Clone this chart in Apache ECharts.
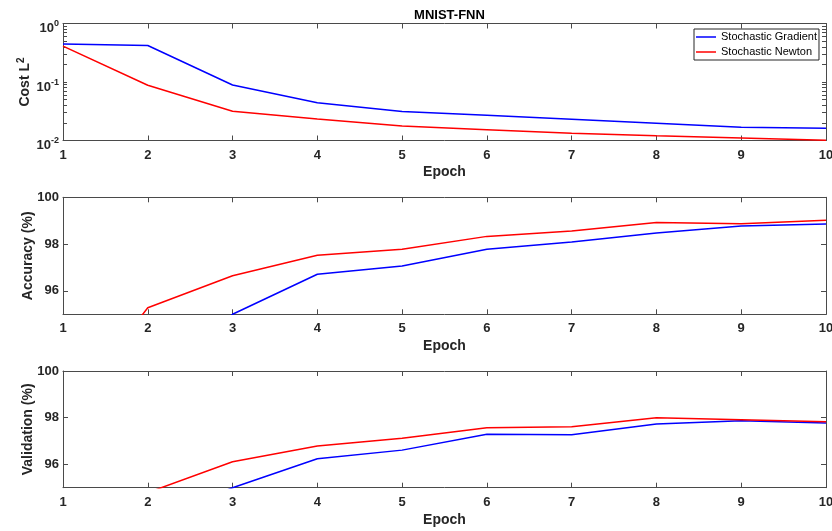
<!DOCTYPE html>
<html>
<head>
<meta charset="utf-8">
<script src="https://cdn.jsdelivr.net/npm/echarts@6/dist/echarts.min.js"></script>
<style>html,body{margin:0;padding:0;background:#fff}#c{width:832px;height:531px}</style>
</head>
<body>
<div id="c"></div>
<script>
const epochs = [1, 2, 3, 4, 5, 6, 7, 8, 9, 10];
const costSG = [0.447, 0.42, 0.089, 0.0443, 0.0313, 0.027, 0.023, 0.0197, 0.0168, 0.0162];
const costSN = [0.41, 0.088, 0.0316, 0.0233, 0.0177, 0.0153, 0.0133, 0.012, 0.011, 0.0101];
const accSG = [89.0, 91.5, 95.0, 96.71, 97.06, 97.78, 98.09, 98.47, 98.77, 98.86];
const accSN = [90.6, 95.28, 96.65, 97.52, 97.78, 98.33, 98.56, 98.92, 98.87, 99.02];
const valSG = [92.0, 93.5, 95.0, 96.24, 96.61, 97.29, 97.27, 97.73, 97.87, 97.77];
const valSN = [93.0, 94.79, 96.11, 96.79, 97.12, 97.57, 97.61, 98.0, 97.91, 97.83];
const logLabelTicks = [0.01, 0.1, 1];
const logAllTicks = [0.01,0.02,0.03,0.04,0.05,0.06,0.07,0.08,0.09,0.1,0.2,0.3,0.4,0.5,0.6,0.7,0.8,0.9,1];
const pctTicks = [96, 98, 100];
const seriesNames = ['Stochastic Gradient', 'Stochastic Newton'];

const FONT = 'Liberation Sans, Arial, Helvetica, sans-serif';
const TXT = '#262626';
const AX = '#4a4a4a';

const chart = echarts.init(document.getElementById('c'));

const grids = [
  {left: 63, width: 763, top: 23.5, height: 117, outerBoundsMode: 'none', containLabel: false},
  {left: 63, width: 763, top: 197.3, height: 117, outerBoundsMode: 'none', containLabel: false},
  {left: 63, width: 763, top: 371, height: 116.7, outerBoundsMode: 'none', containLabel: false}
];

function xAxes(gi) {
  const base = {
    type: 'value', gridIndex: gi, min: 1, max: 10, interval: 1,
    splitLine: {show: false},
    axisLine: {show: true, onZero: false, lineStyle: {color: AX, width: 1}},
    axisTick: {show: true, inside: true, length: 5, lineStyle: {color: AX}}
  };
  return [
    Object.assign({}, base, {
      position: 'bottom',
      name: 'Epoch', nameLocation: 'middle', nameGap: 25, nameMoveOverlap: false,
      nameTextStyle: {fontFamily: FONT, fontWeight: 'bold', fontSize: 14, color: TXT},
      axisLabel: {fontFamily: FONT, fontWeight: 'bold', fontSize: 13, color: TXT, margin: 8}
    }),
    Object.assign({}, base, {position: 'top', axisLabel: {show: false}})
  ];
}

function yAxesLog(gi) {
  const base = {
    type: 'log', gridIndex: gi, min: 0.01, max: 1, logBase: 10,
    splitLine: {show: false}, minorTick: {show: false},
    axisLine: {show: true, onZero: false, lineStyle: {color: AX, width: 1}},
    axisTick: {show: true, inside: true, length: 4, customValues: logAllTicks, lineStyle: {color: AX}}
  };
  return [
    Object.assign({}, base, {
      position: 'left',
      name: 'Cost L{sup|2}', nameLocation: 'middle', nameGap: 28, nameRotate: 90, nameMoveOverlap: false,
      nameTextStyle: {fontFamily: FONT, fontWeight: 'bold', fontSize: 14, color: TXT,
        rich: {sup: {fontFamily: FONT, fontWeight: 'bold', fontSize: 10, color: TXT, padding: [0, 0, 9, 0]}}},
      axisLabel: {
        fontFamily: FONT, fontWeight: 'bold', fontSize: 13, color: TXT, margin: 4,
        padding: [10, 0, 0, 0],
        customValues: logLabelTicks,
        formatter: function (v) { return '10{sup|' + Math.round(Math.log10(v)) + '}'; },
        rich: {sup: {fontFamily: FONT, fontWeight: 'bold', fontSize: 9, color: TXT, padding: [0, 0, 9, 0]}}
      }
    }),
    Object.assign({}, base, {position: 'right', axisLabel: {show: false}})
  ];
}

function yAxesPct(gi, title) {
  const base = {
    type: 'value', gridIndex: gi, min: 95, max: 100,
    splitLine: {show: false},
    axisLine: {show: true, onZero: false, lineStyle: {color: AX, width: 1}},
    axisTick: {show: true, inside: true, length: 5, customValues: pctTicks, lineStyle: {color: AX}}
  };
  return [
    Object.assign({}, base, {
      position: 'left',
      name: title, nameLocation: 'middle', nameGap: 28, nameRotate: 90, nameMoveOverlap: false,
      nameTextStyle: {fontFamily: FONT, fontWeight: 'bold', fontSize: 14, color: TXT},
      axisLabel: {fontFamily: FONT, fontWeight: 'bold', fontSize: 13, color: TXT, margin: 4, customValues: pctTicks}
    }),
    Object.assign({}, base, {position: 'right', axisLabel: {show: false}})
  ];
}

function pairs(vals) { return epochs.map((e, i) => [e, vals[i]]); }

function lineSeries(name, color, vals, axisIdx) {
  return {
    type: 'line', name: name, xAxisIndex: axisIdx, yAxisIndex: axisIdx,
    data: pairs(vals), symbol: 'none', showSymbol: false, clip: true,
    lineStyle: {color: color, width: 1.5}, itemStyle: {color: color},
    animation: false, silent: true, z: 3
  };
}

const option = {
  backgroundColor: '#fff',
  animation: false,
  title: {
    text: 'MNIST-FNN', left: 444.5, top: 4, textAlign: 'center',
    textStyle: {fontFamily: FONT, fontWeight: 'bold', fontSize: 13, color: '#000'}
  },
  legend: {
    data: seriesNames.map(n => ({name: n, icon: 'rect'})), orient: 'vertical', left: 694, top: 29,
    itemWidth: 20, itemHeight: 1.5, itemGap: 3,
    padding: [2, 2, 2, 2],
    backgroundColor: '#fff', borderColor: '#262626', borderWidth: 1, borderRadius: 0,
    textStyle: {fontFamily: FONT, fontSize: 11, color: '#000', lineHeight: 12},
    selectedMode: false
  },
  grid: grids,
  xAxis: [].concat(xAxes(0), xAxes(1), xAxes(2)),
  yAxis: [].concat(yAxesLog(0), yAxesPct(1, 'Accuracy (%)'), yAxesPct(2, 'Validation (%)')),
  series: [
    lineSeries(seriesNames[0], '#0000ff', costSG, 0),
    lineSeries(seriesNames[1], '#ff0000', costSN, 0),
    lineSeries(seriesNames[0], '#0000ff', accSG, 2),
    lineSeries(seriesNames[1], '#ff0000', accSN, 2),
    lineSeries(seriesNames[0], '#0000ff', valSG, 4),
    lineSeries(seriesNames[1], '#ff0000', valSN, 4)
  ]
};
chart.setOption(option);
</script>
</body>
</html>
